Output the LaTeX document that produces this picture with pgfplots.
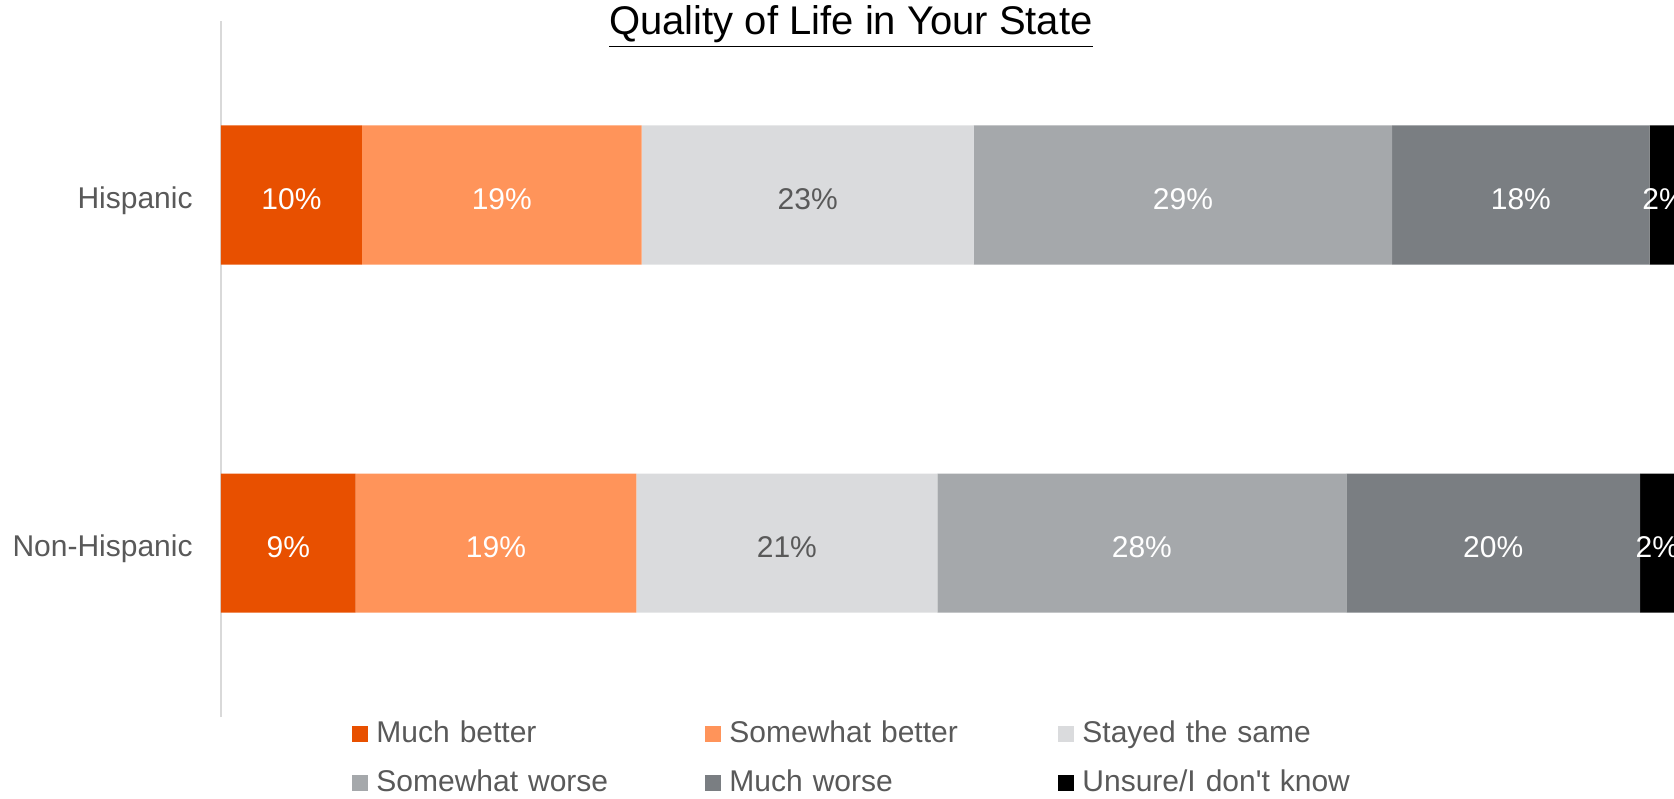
\documentclass[border=0pt]{standalone}
\usepackage{pgfplots}
\usepackage{pgfplotstable}
\pgfplotsset{compat=1.18}
\usepackage{fontspec}
\setmainfont{Liberation Sans}

\definecolor{muchbetter}{HTML}{E85000}
\definecolor{somebetter}{HTML}{FF945A}
\definecolor{same}{HTML}{DADBDD}
\definecolor{someworse}{HTML}{A5A8AB}
\definecolor{muchworse}{HTML}{7A7E82}
\definecolor{txt}{HTML}{595959}
\definecolor{axisgray}{HTML}{D9D9D9}

% shares in percent (1 = Hispanic, 0 = Non-Hispanic)
\pgfplotstableread{
pos mb    sb    st    sw    mw    un
1   9.74  19.34 22.95 28.93 17.79 2.0
0   9.30  19.41 20.81 28.27 20.30 2.4
}\quality

\begin{document}
\begin{tikzpicture}
\begin{axis}[
  name=ax,
  xbar stacked,
  scale only axis,
  % 7.2332pt per percent; the page is cut at 100.44
  width=730.55pt, height=348pt,
  xmin=0, xmax=101,
  ymin=-0.5, ymax=1.5,
  bar width=69.5pt,
  axis x line=none,
  axis y line*=left,
  y axis line style={draw=axisgray, line width=0.8pt},
  ytick={0,1},
  yticklabels={Non-Hispanic, Hispanic},
  major tick length=0pt,
  yticklabel style={font=\fontsize{15}{18}\selectfont, text=txt, inner sep=0pt,
    xshift=-14pt, yshift=-3pt},
  point meta=explicit,
  /pgf/number format/assume math mode=true,
  nodes near coords={\pgfmathprintnumber[fixed,precision=0]{\pgfplotspointmeta}\%},
  every node near coord/.append style={
    font=\fontsize{15}{18}\selectfont, text=white, anchor=center, yshift=-2pt},
  legend columns=3,
  legend image code/.code={\fill[#1] (0pt,-4pt) rectangle (8pt,4pt);},
  legend style={
    at={(0.08967,-0.004)}, anchor=north west,
    draw=none, fill=none, inner sep=0pt,
    font=\fontsize{15}{18}\selectfont, text=txt,
    /tikz/every even column/.append style={column sep=0pt},
    nodes={text width=160.5pt, inner xsep=4pt, inner ysep=0pt,
           text height=11pt, text depth=3pt, align=left},
    row sep=10.5pt,
    cells={anchor=west},
  },
]
\addplot[fill=muchbetter, draw=none] table[y=pos, x=mb, meta=mb] {\quality};
\addplot[fill=somebetter, draw=none] table[y=pos, x=sb, meta=sb] {\quality};
\addplot[fill=same, draw=none, every node near coord/.append style={text=txt}]
  table[y=pos, x=st, meta=st] {\quality};
\addplot[fill=someworse, draw=none] table[y=pos, x=sw, meta=sw] {\quality};
\addplot[fill=muchworse, draw=none] table[y=pos, x=mw, meta=mw] {\quality};
\addplot[fill=black, draw=none] table[y=pos, x=un, meta=un] {\quality};
\legend{Much better, Somewhat better, Stayed the same,
        Somewhat worse, Much worse, Unsure/I don\textquotesingle t know}
\end{axis}
\node[anchor=base, font=\fontsize{20}{24}\selectfont]
  at ([xshift=315pt, yshift=-7pt]ax.north west) {\underline{Quality of Life in Your State}};
\pgfresetboundingbox
\path[use as bounding box] ([xshift=-110.5pt, yshift=-40.5pt]ax.south west)
  rectangle ([xshift=726.5pt, yshift=10.5pt]ax.north west);
\end{tikzpicture}
\end{document}
